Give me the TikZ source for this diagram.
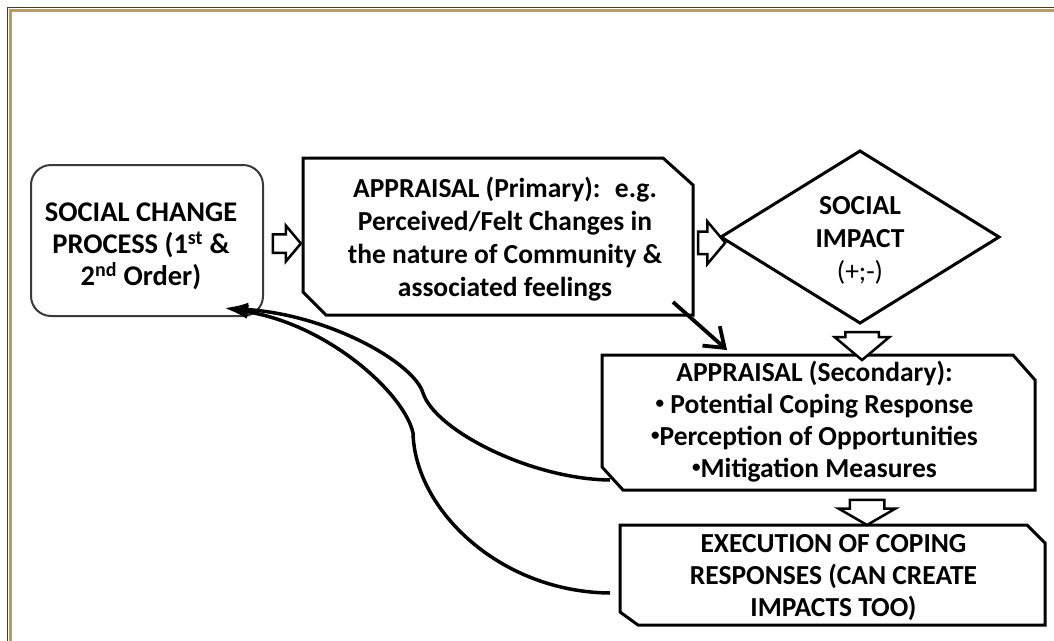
\documentclass[tikz,border=0pt]{standalone}
\usepackage{fontspec}
\setmainfont{Carlito}
\usetikzlibrary{shapes.arrows,calc,arrows.meta}
\definecolor{frametan}{HTML}{B49C6C}
\definecolor{framedark}{HTML}{4A3C28}
\definecolor{scgray}{HTML}{3A3A3A}
\newcommand{\smallbul}{\raisebox{0.18em}{\scalebox{0.62}{•}}}
\begin{document}
\begin{tikzpicture}[x=1pt,y=-1pt,
  txt/.style={font=\fontsize{27.5}{33}\selectfont\bfseries, align=center, text=black, inner sep=0pt, outer sep=0pt},
  shell/.style={inner sep=0pt, outer sep=0pt},
  box/.style={draw=black, line width=3pt, line join=miter},
  barrow/.style={single arrow, draw=black, line width=2.5pt, fill=white, inner xsep=0pt, outer sep=0pt, single arrow tip angle=100},
  back/.style={line width=3.5pt, -{Latex[length=24pt,width=14pt]}},
]
\path[use as bounding box] (0,0) rectangle (1054,640);
% frame
\draw[frametan, line width=3pt] (10,10) rectangle (1080,680);
\draw[framedark, line width=1.2pt] (7.8,7.8) rectangle (1080,680);

% social change process
\node[shell, minimum width=232pt, minimum height=151pt, draw=scgray, line width=2pt, rounded corners=20pt] (sc) at (147,240.5) {};
\node[txt, font=\fontsize{28.5}{32}\selectfont\bfseries] (sct) at ($(sc)+(-6,6)$)
  {SOCIAL CHANGE\\PROCESS (1\textsuperscript{st} \&\\2\textsuperscript{nd} Order)};

% primary appraisal
\node[shell, minimum width=390pt, minimum height=157pt] (p) at (498,236.5) {};
\draw[box] (p.north west) -- ($(p.north east)+(-30,0)$) -- ($(p.north east)+(0,27)$) -- (p.south east)
  -- ($(p.south west)+(23,0)$) -- ($(p.south west)+(0,-23)$) -- cycle;
\node[txt] (pt) at ($(p)+(7,3)$)
  {APPRAISAL (Primary):~ e.g.\\Perceived/Felt Changes in\\the nature of Community \&\\associated feelings};

% social impact
\node[shell, minimum width=278pt, minimum height=172pt] (d) at (860,237) {};
\draw[box] (d.west) -- (d.north) -- (d.east) -- (d.south) -- cycle;
\node[txt] (dt) at ($(d)+(0,3)$) {SOCIAL\\IMPACT\\{\mdseries(+;-)}};

% secondary appraisal
\node[shell, minimum width=433pt, minimum height=135pt] (s) at (818.5,422.5) {};
\draw[box] (s.north west) -- ($(s.north east)+(-22,0)$) -- ($(s.north east)+(0,25)$) -- (s.south east)
  -- ($(s.south west)+(21,0)$) -- ($(s.south west)+(0,-23)$) -- cycle;
\node[txt, font=\fontsize{27.5}{32}\selectfont\bfseries] (st) at ($(s)+(-4,-1)$)
  {APPRAISAL (Secondary):\\\smallbul\ Potential Coping Response\\\smallbul Perception of Opportunities\\\smallbul Mitigation Measures};

% execution
\node[shell, minimum width=425pt, minimum height=100pt] (e) at (832.5,575) {};
\draw[box] (e.north west) -- ($(e.north east)+(-18,0)$) -- ($(e.north east)+(0,18)$) -- (e.south east)
  -- ($(e.south west)+(18,0)$) -- ($(e.south west)+(0,-13)$) -- cycle;
\node[txt, font=\fontsize{27.5}{32}\selectfont\bfseries] (et) at ($(e)+(1,3)$)
  {EXECUTION OF COPING\\RESPONSES (CAN CREATE\\IMPACTS TOO)};

% block arrows
\node[barrow, minimum height=28pt, inner ysep=8pt, single arrow head extend=8.5pt] (a1)
  at ($($(sc.east)!0.5!(p.west)$)+(0,5)$) {};
\node[barrow, minimum height=27pt, inner ysep=10pt, single arrow head extend=10pt] (a2)
  at ($($(p.east)!0.5!(d.west)$)+(0,6)$) {};
\node[barrow, rotate=-90, minimum height=28pt, inner ysep=15.5pt, single arrow head extend=10.5pt] (a3)
  at ($(d.south)+(2,16)$) {};
\node[barrow, rotate=-90, minimum height=25pt, inner ysep=16pt, single arrow head extend=11pt, single arrow tip angle=120] (a4)
  at ($($(s.south)!0.5!(e.north)$)+(41.5,0)$) {};

% diagonal arrow
\draw[line width=3.8pt, -{Straight Barb[length=18pt,width=26pt]}]
  ($(p.south east)+(-20,-13)$) -- ($(s.north west)+(125,-5)$);

% feedback curves
\coordinate (tip) at ($(sc.south east)+(-39,-8)$);
\draw[back] ($(s.south west)+(8,-10)$) .. controls (530,479) and (435,430) .. (423,393)
  .. controls (414,363) and (330,315) .. (tip);
\draw[back] ($(e.west)+(-10,18)$) .. controls (500,592) and (415,510) .. (413,433)
  .. controls (405,395) and (330,325) .. (tip);
\end{tikzpicture}
\end{document}
